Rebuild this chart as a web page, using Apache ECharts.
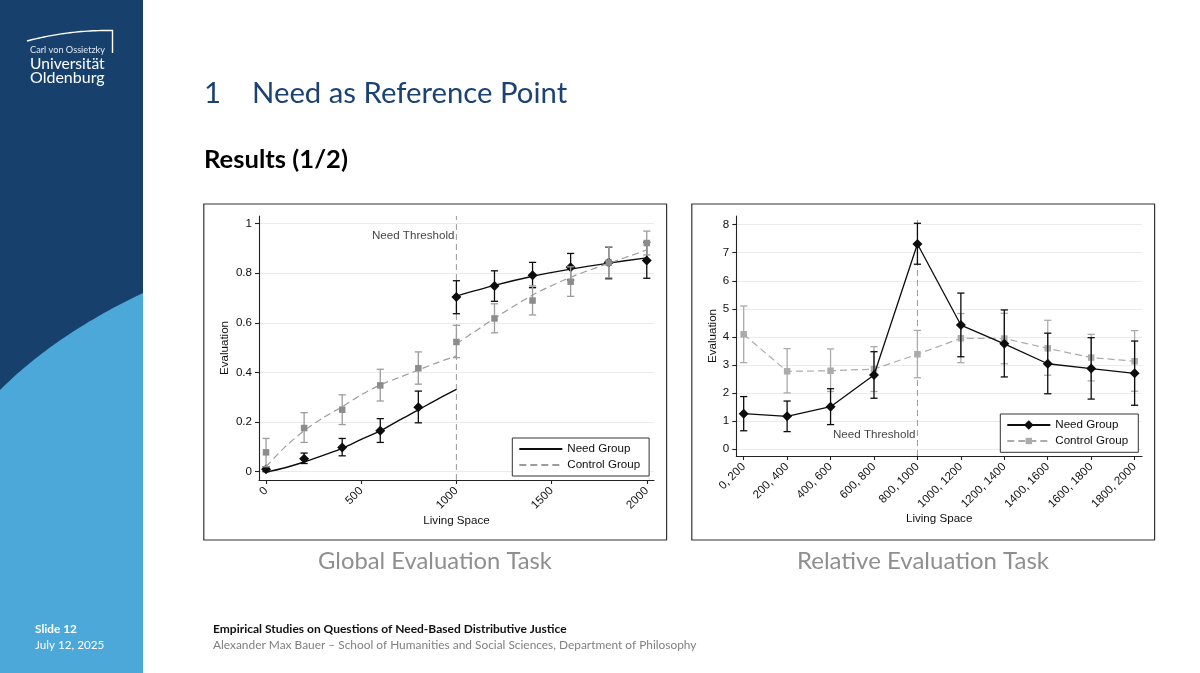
<!DOCTYPE html>
<html><head><meta charset="utf-8">
<style>html,body{margin:0;padding:0;background:#fff}#c{width:1200px;height:673px}</style>
<script src="https://cdn.jsdelivr.net/npm/echarts@6/dist/echarts.min.js"></script>
</head><body><div id="c"></div>
<script>
// ---- Left panel: Global Evaluation Task ----
const globalX = [0,200,400,600,800,1000,1200,1400,1600,1800,2000];
const globalTicksX = [0,500,1000,1500,2000];
const globalTicksY = [0,0.2,0.4,0.6,0.8,1];
const globalNeed = [0.01,0.052,0.098,0.165,0.26,0.704,0.749,0.792,0.824,0.843,0.852];
const globalNeedLow = [0,0.033,0.064,0.118,0.197,0.637,0.687,0.742,0.773,0.778,0.78];
const globalNeedHigh = [0.02,0.075,0.134,0.214,0.325,0.77,0.81,0.844,0.88,0.905,0.925];
const globalControl = [0.078,0.176,0.25,0.348,0.417,0.523,0.618,0.69,0.766,0.843,0.922];
const globalControlLow = [0.02,0.118,0.19,0.285,0.353,0.46,0.56,0.632,0.707,0.782,0.874];
const globalControlHigh = [0.134,0.238,0.31,0.413,0.483,0.59,0.677,0.749,0.826,0.906,0.97];
const fitNeed = [[0,-0.002],[100,0.016],[200,0.039],[300,0.066],[400,0.094],[500,0.13],[600,0.165],[700,0.208],[800,0.249],[900,0.292],[1000,0.332],[1000,null],[1000,0.708],[1200,0.751],[1400,0.788],[1600,0.817],[1800,0.841],[2000,0.862]];
const fitControl = [[0,0.02],[100,0.1],[200,0.165],[300,0.218],[400,0.262],[500,0.31],[600,0.35],[700,0.38],[800,0.41],[900,0.44],[1000,0.467],[1000,null],[1000,0.515],[1200,0.618],[1400,0.712],[1600,0.784],[1800,0.84],[2000,0.894]];
// ---- Right panel: Relative Evaluation Task ----
const relCategories = ['0, 200','200, 400','400, 600','600, 800','800, 1000','1000, 1200','1200, 1400','1400, 1600','1600, 1800','1800, 2000'];
const relTicksY = [0,1,2,3,4,5,6,7,8];
const relNeed = [1.26,1.165,1.51,2.64,7.31,4.42,3.75,3.04,2.87,2.70];
const relNeedLow = [0.65,0.62,0.87,1.81,6.59,3.29,2.57,1.97,1.78,1.56];
const relNeedHigh = [1.87,1.71,2.15,3.47,8.05,5.56,4.96,4.13,3.97,3.85];
const relControl = [4.09,2.77,2.79,2.85,3.38,3.95,3.94,3.59,3.26,3.13];
const relControlLow = [3.08,2.0,2.05,2.05,2.54,3.08,3.04,2.63,2.43,2.06];
const relControlHigh = [5.10,3.58,3.57,3.65,4.23,4.83,4.84,4.59,4.09,4.22];

const NAVY='#17406d', SKY='#4ba8d9', TITLE='#1b4273';
const BLACK='#0d0d0d', GREY='#8c8c8c', LGREY='#ababab', THR='#9a9a9a', TEXT='#0f0f0f';
const SANS='Liberation Sans', SLIDE='Lato', FS=11.6;

function errSeries(xi, yi, xs, lo, hi, color, z){
  return {type:'custom', xAxisIndex:xi, yAxisIndex:yi, z, silent:true, clip:false,
    data: xs.map((x,i)=>[x,lo[i],hi[i]]),
    encode:{x:0,y:[1,2]},
    renderItem(p,api){
      const a=api.coord([api.value(0),api.value(1)]), b=api.coord([api.value(0),api.value(2)]), c=3.6;
      const st={stroke:color,lineWidth:1.3,fill:null};
      return {type:'group',children:[
        {type:'line',shape:{x1:a[0],y1:a[1],x2:b[0],y2:b[1]},style:st},
        {type:'line',shape:{x1:a[0]-c,y1:a[1],x2:a[0]+c,y2:a[1]},style:st},
        {type:'line',shape:{x1:b[0]-c,y1:b[1],x2:b[0]+c,y2:b[1]},style:st}
      ]};
    }};
}
function axisBase(){return {
  axisLine:{show:true,onZero:false,lineStyle:{color:'#222',width:1.1}},
  axisTick:{show:true,length:4,lineStyle:{color:'#222',width:1.1}},
  nameTextStyle:{fontFamily:SANS,fontSize:FS,color:TEXT},
  nameLocation:'middle'
};}
function xAxisOf(g,min,max,ticks,fmt,gap){const b=axisBase();return Object.assign(b,{
  type:'value',gridIndex:g,min,max,name:'Living Space',nameGap:gap,splitLine:{show:false},
  axisTick:Object.assign(b.axisTick,{customValues:ticks}),
  axisLabel:{customValues:ticks,rotate:45,fontFamily:SANS,fontSize:FS,color:TEXT,margin:9,formatter:fmt,hideOverlap:false,showMinLabel:true,showMaxLabel:true}
});}
function yAxisOf(g,min,max,ticks,gap){const b=axisBase();return Object.assign(b,{
  type:'value',gridIndex:g,min,max,name:'Evaluation',nameGap:gap,
  splitLine:{show:true,lineStyle:{color:'#ebebeb',width:1}},
  axisTick:Object.assign(b.axisTick,{customValues:ticks}),
  axisLabel:{customValues:ticks,fontFamily:SANS,fontSize:FS,color:TEXT,margin:7,showMinLabel:true,showMaxLabel:true}
});}
const legendText={fontFamily:SANS,fontSize:FS,color:TEXT};
const REL=' (relative)';
const xs2=relCategories.map((_,i)=>i+1);
const pair=(x,y)=>x.map((v,i)=>[v,y[i]]);
function label(t,x,y){return {type:'text',left:x,top:y,silent:true,style:t};}
// decorative curves of the slide background, sampled from a cubic Bezier
function cubic(p0,p1,p2,p3,n){const out=[];for(let i=0;i<=n;i++){const t=i/n,u=1-t;
  out.push([0,1].map(k=>u*u*u*p0[k]+3*u*u*t*p1[k]+3*u*t*t*p2[k]+t*t*t*p3[k]));}return out;}

const option={
  animation:false,
  backgroundColor:'#fff',
  grid:[
    {left:259,top:216,width:395,height:264,containLabel:false},
    {left:736.3,top:216,width:405.7,height:240,containLabel:false}
  ],
  xAxis:[
    xAxisOf(0,-37,2038,globalTicksX,v=>String(v),31),
    xAxisOf(1,0.83,10.17,xs2,v=>relCategories[v-1],55)
  ],
  yAxis:[
    yAxisOf(0,-0.0335,1.031,globalTicksY,28),
    yAxisOf(1,-0.25,8.31,relTicksY,18)
  ],
  legend:[
    {orient:'vertical',left:512.3,top:438,data:['Need Group','Control Group'],selectedMode:false,
     itemWidth:43,itemHeight:12,itemGap:4,padding:[5,9,5,6],borderColor:'#333',borderWidth:1,backgroundColor:'#fff',
     itemStyle:{color:'transparent',opacity:0},textStyle:legendText,z:6},
    {left:1006.3,top:419,data:['Need Group'+REL],selectedMode:false,itemWidth:43,itemHeight:12,padding:0,
     textStyle:legendText,formatter:n=>n.replace(REL,''),z:7},
    {left:1006.3,top:435,data:['Control Group'+REL],selectedMode:false,itemWidth:43,itemHeight:8,padding:0,
     textStyle:legendText,formatter:n=>n.replace(REL,''),z:7}
  ],
  series:[
    // threshold lines
    {type:'line',xAxisIndex:0,yAxisIndex:0,symbol:'none',silent:true,z:1,data:[[1000,-0.0335],[1000,1.031]],lineStyle:{color:THR,width:1,type:[6,4]}},
    {type:'line',xAxisIndex:1,yAxisIndex:1,symbol:'none',silent:true,z:1,data:[[5,-0.25],[5,8.3]],lineStyle:{color:THR,width:1,type:[6,4]}},
    {type:'scatter',xAxisIndex:0,yAxisIndex:0,symbolSize:0,silent:true,data:[[1000,0.95]],label:{show:true,position:'left',distance:2,formatter:'Need Threshold',fontFamily:SANS,fontSize:FS,color:TEXT}},
    {type:'scatter',xAxisIndex:1,yAxisIndex:1,symbolSize:0,silent:true,data:[[5,0.5]],label:{show:true,position:'left',distance:2,formatter:'Need Threshold',fontFamily:SANS,fontSize:FS,color:TEXT}},
    // left panel
    errSeries(0,0,globalX,globalNeedLow,globalNeedHigh,BLACK,2),
    {name:'Need Group',type:'line',xAxisIndex:0,yAxisIndex:0,symbol:'none',smooth:0.3,connectNulls:false,z:2,data:fitNeed,lineStyle:{color:BLACK,width:1.4},itemStyle:{color:BLACK}},
    {type:'scatter',xAxisIndex:0,yAxisIndex:0,symbol:'diamond',symbolSize:10,z:2,data:pair(globalX,globalNeed),itemStyle:{color:BLACK,opacity:1}},
    errSeries(0,0,globalX,globalControlLow,globalControlHigh,'#9c9c9c',3),
    {name:'Control Group',type:'line',xAxisIndex:0,yAxisIndex:0,symbol:'none',smooth:0.3,connectNulls:false,z:3,data:fitControl,lineStyle:{color:'#9c9c9c',width:1.2,type:[7,4]},itemStyle:{color:'#9c9c9c'}},
    {type:'scatter',xAxisIndex:0,yAxisIndex:0,symbol:'rect',symbolSize:6.5,z:3,data:pair(globalX,globalControl),itemStyle:{color:GREY,opacity:1}},
    // right panel
    errSeries(1,1,xs2,relControlLow,relControlHigh,LGREY,2),
    {name:'Control Group'+REL,type:'line',xAxisIndex:1,yAxisIndex:1,symbol:'rect',symbolSize:6.5,showSymbol:true,z:2,data:pair(xs2,relControl),lineStyle:{color:LGREY,width:1.2,type:[7,4]},itemStyle:{color:LGREY}},
    errSeries(1,1,xs2,relNeedLow,relNeedHigh,BLACK,3),
    {name:'Need Group'+REL,type:'line',xAxisIndex:1,yAxisIndex:1,symbol:'diamond',symbolSize:10,showSymbol:true,z:3,data:pair(xs2,relNeed),lineStyle:{color:BLACK,width:1.3},itemStyle:{color:BLACK}}
  ],
  graphic:[
    {type:'rect',z:-10,silent:true,shape:{x:0,y:0,width:143,height:673},style:{fill:NAVY}},
    {type:'polygon',z:-9,silent:true,shape:{points:cubic([0,390],[40,350],[90,318],[143,293],40).concat([[143,673],[0,673]])},style:{fill:SKY}},
    {type:'polyline',z:-8,silent:true,shape:{points:cubic([27,41],[55,33.5],[85,30],[112.5,30.5],30).concat([[112.5,53]])},style:{stroke:'#fff',fill:null,lineWidth:1.4}},
    label({text:'Carl von Ossietzky',fill:'#dfe8f2',font:'9.2px '+SLIDE},30,46),
    label({text:'Universität',fill:'#fff',font:'15.6px '+SLIDE},30,56),
    label({text:'Oldenburg',fill:'#fff',font:'16px '+SLIDE},30,70),
    label({text:'Slide 12',fill:'#fff',font:'bold 11.8px '+SLIDE},35,623),
    label({text:'July 12, 2025',fill:'#fff',font:'11.7px '+SLIDE},35,639),
    label({text:'1',fill:TITLE,font:'29.3px '+SLIDE},204,79),
    label({text:'Need as Reference Point',fill:TITLE,font:'29.3px '+SLIDE},252,79),
    label({text:'Results (1/2)',fill:'#000',font:'bold 25.6px '+SLIDE},204,147),
    {type:'rect',z:5,silent:true,shape:{x:203.8,y:204,width:462.8,height:336},style:{fill:null,stroke:'#333',lineWidth:1.2}},
    {type:'rect',z:5,silent:true,shape:{x:691.8,y:204,width:462.8,height:336},style:{fill:null,stroke:'#333',lineWidth:1.2}},
    {type:'rect',z:5,silent:true,shape:{x:1000.3,y:414,width:138,height:38.3},style:{fill:'#fff',stroke:'#333',lineWidth:1}},
    {type:'text',silent:true,x:435,y:561,style:{text:'Global Evaluation Task',fill:'#8f8f8f',font:'23.8px '+SLIDE,align:'center',verticalAlign:'middle'}},
    {type:'text',silent:true,x:923,y:561,style:{text:'Relative Evaluation Task',fill:'#8f8f8f',font:'24px '+SLIDE,align:'center',verticalAlign:'middle'}},
    label({text:'Empirical Studies on Questions of Need-Based Distributive Justice',fill:'#111',font:'bold 12px '+SLIDE},213,623),
    label({text:'Alexander Max Bauer – School of Humanities and Social Sciences, Department of Philosophy',fill:'#808080',font:'11.9px '+SLIDE},213,639)
  ]
};
echarts.init(document.getElementById('c'),null,{renderer:'canvas'}).setOption(option);
</script></body></html>
